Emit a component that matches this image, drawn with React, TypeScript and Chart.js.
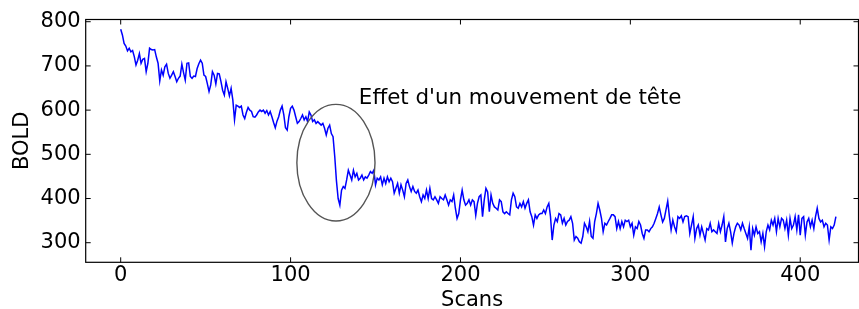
import React, { useEffect, useRef } from "react";
import { Chart, registerables } from "chart.js";

Chart.register(...registerables);

// BOLD signal per scan (scan index = position in array, 0..421)
const bold: number[] = [
  783, 770, 751, 745, 734, 740, 732, 735, 721, 702,
  713, 728, 706, 715, 717, 687, 706, 740, 737, 736,
  737, 720, 706, 666, 691, 679, 698, 704, 683, 672,
  679, 687, 676, 664, 672, 677, 704, 685, 668, 706,
  707, 676, 672, 677, 676, 694, 705, 713, 706, 679,
  676, 660, 642, 657, 687, 679, 659, 683, 682, 665,
  645, 634, 664, 649, 632, 649, 623, 578, 611, 609,
  606, 609, 589, 581, 595, 606, 600, 597, 585, 584,
  589, 596, 600, 597, 600, 593, 599, 589, 597, 585,
  572, 560, 575, 585, 600, 609, 590, 560, 555, 585,
  604, 609, 600, 585, 570, 574, 581, 589, 578, 585,
  574, 596, 589, 574, 578, 570, 574, 570, 566, 570,
  559, 544, 559, 566, 547, 540, 495, 440, 400, 385,
  419, 427, 423, 442, 464, 453, 442, 464, 449, 457,
  442, 446, 453, 442, 449, 446, 453, 461, 457, 464,
  431, 446, 442, 449, 431, 446, 434, 449, 438, 446,
  438, 412, 423, 434, 412, 431, 419, 404, 434, 442,
  427, 416, 427, 416, 412, 419, 404, 393, 408, 400,
  419, 400, 423, 400, 397, 404, 397, 389, 404, 400,
  397, 408, 397, 385, 397, 393, 408, 378, 355, 366,
  397, 419, 397, 385, 389, 397, 385, 397, 393, 362,
  389, 404, 408, 359, 397, 423, 415, 370, 408, 389,
  381, 378, 374, 397, 393, 370, 366, 370, 366, 363,
  397, 412, 404, 381, 378, 389, 381, 393, 378, 389,
  397, 370, 359, 340, 363, 355, 363, 366, 366, 374,
  366, 381, 389, 359, 306, 340, 355, 348, 366, 363,
  344, 355, 340, 348, 351, 359, 344, 306, 314, 310,
  302, 299, 314, 344, 336, 325, 348, 314, 310, 348,
  366, 389, 374, 355, 325, 344, 340, 348, 355, 363,
  363, 359, 332, 348, 332, 348, 336, 351, 348, 351,
  336, 344, 317, 336, 332, 348, 340, 321, 310, 329,
  329, 325, 332, 336, 344, 355, 366, 381, 363, 347,
  355, 375, 394, 359, 329, 351, 336, 325, 359, 355,
  361, 347, 359, 361, 359, 321, 340, 359, 310, 332,
  340, 317, 336, 321, 306, 332, 329, 344, 325, 329,
  325, 321, 344, 325, 340, 359, 302, 332, 344, 325,
  299, 321, 336, 344, 340, 329, 344, 332, 321, 310,
  336, 283, 332, 317, 336, 321, 325, 302, 321, 291,
  325, 340, 329, 351, 340, 355, 325, 355, 336, 355,
  351, 332, 351, 317, 355, 332, 340, 359, 329, 363,
  317, 355, 359, 317, 347, 355, 336, 351, 332, 359,
  378, 355, 347, 351, 336, 344, 340, 306, 336, 332,
  340, 359,
];

const xTicks: number[] = [0, 100, 200, 300, 400];
const yTicks: number[] = [300, 400, 500, 600, 700, 800];
const xRange: number[] = [-20.6, 434.3];
const yRange: number[] = [255.7, 805];
const xLabel = "Scans";
const yLabel = "BOLD";

// annotation (data coordinates)
const annotationText = "Effet d'un mouvement de tête";
const annotationAnchor: number[] = [140.2, 614.5];
const ellipseCenter: number[] = [126.7, 481];
const ellipseRadius: number[] = [23, 132];

const FONT = "DejaVu Sans";

const framePlugin = {
  id: "frameAndAnnotation",
  afterDatasetsDraw(chart: any) {
    const { ctx, chartArea, scales } = chart;
    const { left, right, top, bottom } = chartArea;
    const x = scales.x;
    const y = scales.y;
    ctx.save();
    // ellipse
    const cx = x.getPixelForValue(ellipseCenter[0]);
    const cy = y.getPixelForValue(ellipseCenter[1]);
    const rx = Math.abs(x.getPixelForValue(ellipseCenter[0] + ellipseRadius[0]) - cx);
    const ry = Math.abs(y.getPixelForValue(ellipseCenter[1] + ellipseRadius[1]) - cy);
    ctx.beginPath();
    ctx.ellipse(cx, cy, rx, ry, 0, 0, Math.PI * 2);
    ctx.strokeStyle = "#555555";
    ctx.lineWidth = 1.4;
    ctx.stroke();
    // annotation text
    ctx.fillStyle = "#000";
    ctx.font = `21.4px "${FONT}"`;
    ctx.textAlign = "left";
    ctx.textBaseline = "alphabetic";
    ctx.fillText(
      annotationText,
      x.getPixelForValue(annotationAnchor[0]),
      y.getPixelForValue(annotationAnchor[1])
    );
    // frame
    ctx.strokeStyle = "#000";
    ctx.lineWidth = 1.2;
    ctx.strokeRect(left, top, right - left, bottom - top);
    // inward ticks
    ctx.beginPath();
    x.ticks.forEach((t: any) => {
      const px = x.getPixelForValue(t.value);
      ctx.moveTo(px, bottom);
      ctx.lineTo(px, bottom - 5);
      ctx.moveTo(px, top);
      ctx.lineTo(px, top + 5);
    });
    y.ticks.forEach((t: any) => {
      const py = y.getPixelForValue(t.value);
      ctx.moveTo(left, py);
      ctx.lineTo(left + 5, py);
      ctx.moveTo(right, py);
      ctx.lineTo(right - 5, py);
    });
    ctx.lineWidth = 1;
    ctx.stroke();
    ctx.restore();
  },
};

export default function App() {
  const canvasRef = useRef<HTMLCanvasElement | null>(null);

  useEffect(() => {
    const canvas = canvasRef.current;
    if (!canvas) return;
    const points = bold.map((v, i) => ({ x: i, y: v }));
    const chart = new Chart(canvas, {
      type: "line",
      data: {
        datasets: [
          {
            data: points,
            borderColor: "#0000ff",
            borderWidth: 1.5,
            pointRadius: 0,
            tension: 0,
            fill: false,
          },
        ],
      },
      options: {
        animation: false,
        responsive: false,
        devicePixelRatio: 1,
        layout: { padding: { left: 0, right: 0.5, top: 19.5, bottom: 0 } },
        plugins: { legend: { display: false }, tooltip: { enabled: false } },
        scales: {
          x: {
            type: "linear",
            min: xRange[0],
            max: xRange[1],
            afterBuildTicks: (s: any) => {
              s.ticks = xTicks.map((v) => ({ value: v }));
            },
            afterFit: (s: any) => {
              s.height = 46.7;
            },
            grid: { display: false, drawTicks: false },
            border: { display: false },
            ticks: {
              padding: 0.5,
              color: "#000",
              font: { family: FONT, size: 21 },
              maxRotation: 0,
              callback: (v: any) => String(v),
            },
            title: {
              display: true,
              text: xLabel,
              color: "#000",
              font: { family: FONT, size: 21, lineHeight: 1 },
              padding: { top: 0, bottom: -2.5 },
            },
          },
          y: {
            type: "linear",
            min: yRange[0],
            max: yRange[1],
            afterBuildTicks: (s: any) => {
              s.ticks = yTicks.map((v) => ({ value: v }));
            },
            afterFit: (s: any) => {
              s.width = 85.7;
            },
            grid: { display: false, drawTicks: false },
            border: { display: false },
            ticks: {
              padding: 5,
              color: "#000",
              font: { family: FONT, size: 21 },
              callback: (v: any) => String(v),
            },
            title: {
              display: true,
              text: yLabel,
              color: "#000",
              font: { family: FONT, size: 21, lineHeight: 1 },
              padding: { top: 12, bottom: 0 },
            },
          },
        },
      },
      plugins: [framePlugin],
    });
    return () => chart.destroy();
  }, []);

  return (
    <div style={{ position: "absolute", left: 0, top: 0, width: 859, height: 309, background: "#fff" }}>
      <canvas ref={canvasRef} width={859} height={309} style={{ display: "block" }} />
    </div>
  );
}
